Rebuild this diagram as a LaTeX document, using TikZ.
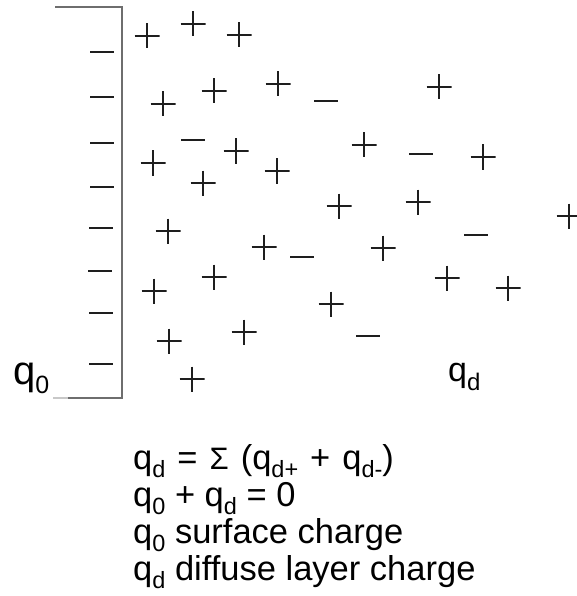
\documentclass[tikz,border=0pt]{standalone}
\usepackage{fontspec}
\setmainfont{Liberation Sans}
\newcommand{\fsz}[1]{\fontsize{#1}{#1}\selectfont}
% subscript: size, drop, text
\newcommand{\lowsub}[3]{\raisebox{-#2}{\fsz{#1}#3}}
\newcommand{\wsp}{\hspace{12pt}}
\definecolor{signcol}{HTML}{1E1E1E}
\definecolor{wallcol}{HTML}{6E6E6E}
\definecolor{wallfade}{HTML}{C8C8C8}
\tikzset{
  pcharge/.style={minimum size=25pt, inner sep=0pt, outer sep=0pt,
    path picture={\draw[signcol, line width=2.4pt]
      (path picture bounding box.west) -- (path picture bounding box.east)
      (path picture bounding box.north) -- (path picture bounding box.south);}},
  ncharge/.style={minimum width=24pt, minimum height=2.9pt, inner sep=0pt,
    outer sep=0pt, fill=signcol},
  wall/.style={wallcol, line width=1.5pt},
  eqline/.style={anchor=base west, inner sep=0pt, font=\fsz{34.5}},
}
\begin{document}
\begin{tikzpicture}[x=1pt,y=-1pt]
\useasboundingbox (0,0) rectangle (576,596);
% electrode wall
\coordinate (wtl) at (55,7);
\coordinate (wtr) at (122,7);
\coordinate (wbr) at (122,398);
\coordinate (wbl) at (68,398);
\coordinate (wbf) at (53,398);
\draw[wall] (wtl) -- (wtr) -- (wbr) -- (wbl);
\draw[wallfade, line width=1.5pt] (wbl) -- (wbf);
% surface negative charges
\foreach \i/\x/\y in {1/102/52,2/102/97,3/102/143,4/102/187,5/101/228,6/100/271,7/101/313,8/101/364}
  \node[ncharge] (s\i) at (\x,\y) {};
% diffuse layer positive charges
\foreach \i/\x/\y in {1/147/36,2/193/24,3/239/35,
  4/163/104,5/214/91,6/278/84,7/439/87,
  8/153/163,9/236/151,10/203/183,11/277/171,12/364/145,13/483/157,
  14/339/206,15/418/202,16/569/216,
  17/168/231,18/264/247,19/383/248,
  20/154/291,21/214/277,22/447/278,23/508/288,
  24/331/304,
  25/169/341,26/244/332,
  27/192/379}
  \node[pcharge] (p\i) at (\x,\y) {};
% diffuse layer negative charges
\foreach \i/\x/\y in {1/326/101,2/193/140,3/421/154,4/476/235,5/302/257,6/368/336}
  \node[ncharge] (n\i) at (\x,\y) {};
% labels
\node[anchor=base west, inner sep=0pt, font=\fsz{40}] (q0) at (13,384)
  {q\lowsub{25}{9.5pt}{0}};
\node[anchor=base west, inner sep=0pt, font=\fsz{34}] (qd) at (448,381)
  {q\lowsub{24}{9pt}{d}};
% equations
\node[eqline] (t1) at (133,469)
  {q\lowsub{23.5}{8pt}{d}\wsp=\wsp{\fsz{31}Σ}\wsp(q\lowsub{23.5}{8pt}{d+}\wsp+\wsp q\lowsub{23.5}{8pt}{d-})};
\node[eqline] (t2) at (133,506)
  {q\lowsub{23.5}{8pt}{0} + q\lowsub{23.5}{8pt}{d} = 0};
\node[eqline] (t3) at (133,543)
  {q\lowsub{23.5}{8pt}{0} surface charge};
\node[eqline] (t4) at (133,580)
  {q\lowsub{23.5}{8pt}{d} diffuse layer charge};
\end{tikzpicture}
\end{document}
